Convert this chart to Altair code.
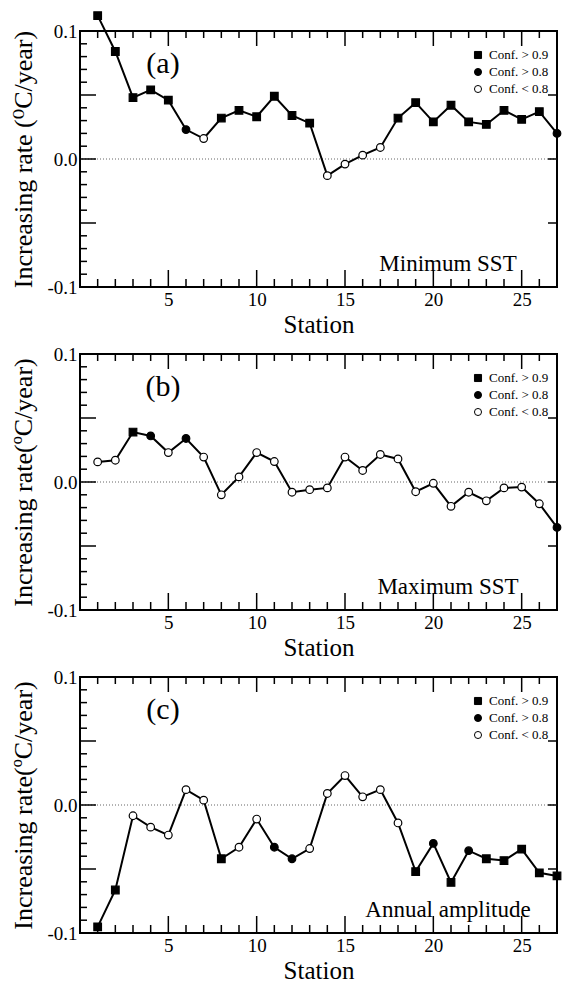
import altair as alt
import pandas as pd

H9 = "Conf. > 0.9"
M8 = "Conf. > 0.8"
L8 = "Conf. < 0.8"
conf_levels = [H9, M8, L8]

stations = list(range(1, 28))

min_sst = [0.112, 0.084, 0.048, 0.054, 0.046, 0.023, 0.016, 0.032, 0.038, 0.033,
           0.049, 0.034, 0.028, -0.013, -0.004, 0.003, 0.009, 0.032, 0.044, 0.029,
           0.042, 0.029, 0.027, 0.038, 0.031, 0.037, 0.020]
min_conf = [H9, H9, H9, H9, H9, M8, L8, H9, H9, H9, H9, H9, H9, L8, L8, L8, L8,
            H9, H9, H9, H9, H9, H9, H9, H9, H9, M8]

max_sst = [0.0157, 0.017, 0.039, 0.036, 0.023, 0.034, 0.0195, -0.010, 0.004, 0.023,
           0.016, -0.008, -0.006, -0.0046, 0.0195, 0.009, 0.0215, 0.018, -0.0076, -0.001,
           -0.019, -0.008, -0.0147, -0.0046, -0.004, -0.017, -0.0355]
max_conf = [L8, L8, H9, M8, L8, M8, L8, L8, L8, L8, L8, L8, L8, L8, L8, L8, L8,
            L8, L8, L8, L8, L8, L8, L8, L8, L8, M8]

amp = [-0.0952, -0.0664, -0.0084, -0.0173, -0.0235, 0.012, 0.0038, -0.042, -0.033, -0.011,
       -0.033, -0.042, -0.034, 0.009, 0.023, 0.0064, 0.012, -0.014, -0.052, -0.030,
       -0.0605, -0.0357, -0.042, -0.0434, -0.0345, -0.053, -0.0554]
amp_conf = [H9, H9, L8, L8, L8, L8, L8, H9, L8, L8, M8, M8, L8, L8, L8, L8, L8,
            L8, H9, M8, H9, M8, H9, H9, H9, H9, H9]

x_labels = [5, 10, 15, 20, 25]
x_minor = [1, 2, 3, 4, 6, 7, 8, 9, 11, 12, 13, 14, 16, 17, 18, 19, 21, 22, 23, 24, 26]
x_major = [5, 10, 15, 20, 25]
y_labels = [-0.1, 0.0, 0.1]
y_minor = [-0.09, -0.08, -0.07, -0.06, -0.04, -0.03, -0.02, -0.01,
           0.01, 0.02, 0.03, 0.04, 0.06, 0.07, 0.08, 0.09]
y_major = [-0.05, 0.0, 0.05]

W, H = 477, 256
FONT = "Liberation Serif, DejaVu Serif, serif"

shape_range = {H9: "square", M8: "circle", L8: "circle"}
fill_range = {H9: "black", M8: "black", L8: "white"}

xs = alt.Scale(domain=[0, 27], nice=False, zero=False)
ys = alt.Scale(domain=[-0.1, 0.1], nice=False, zero=False)


def panel(vals, conf, tag, note, ytitle):
    df = pd.DataFrame({"station": stations, "rate": vals, "conf": conf})
    xaxis = alt.Axis(values=x_labels, ticks=False, domain=False, grid=False,
                     title="Station", labelPadding=3, titlePadding=3,
                     titleFontSize=25)
    yaxis = alt.Axis(values=y_labels, ticks=False, domain=False,
                     grid=False, title=ytitle, labelPadding=3, titlePadding=10,
                     labelExpr="datum.value < 0 ? '-' + format(-datum.value, '.1f') : format(datum.value, '.1f')")
    X = alt.X("station:Q", scale=xs, axis=xaxis)
    Y = alt.Y("rate:Q", scale=ys, axis=yaxis)

    zero = alt.Chart(pd.DataFrame({"rate": [0.0]})).mark_rule(
        color="#666", strokeDash=[1, 2], strokeWidth=1
    ).encode(y=Y)

    line = alt.Chart(df).mark_line(color="black", strokeWidth=2).encode(x=X, y=Y)

    pts = alt.Chart(df).mark_point(stroke="black", strokeWidth=1.2, size=58,
                                   opacity=1, fillOpacity=1).encode(
        x=X, y=Y,
        shape=alt.Shape("conf:N", scale=alt.Scale(domain=conf_levels,
                                                  range=[shape_range[c] for c in conf_levels]),
                        legend=None),
        fill=alt.Fill("conf:N", scale=alt.Scale(domain=conf_levels,
                                                range=[fill_range[c] for c in conf_levels]),
                      legend=None),
    )

    # legend (manual)
    legend_layers = []
    for i, c in enumerate(conf_levels):
        d = pd.DataFrame({"lab": [c]})
        legend_layers.append(
            alt.Chart(d).mark_point(shape=shape_range[c], fill=fill_range[c],
                                    stroke="black", strokeWidth=1, size=50,
                                    opacity=1, fillOpacity=1).encode(
                x=alt.value(398), y=alt.value(24 + 17 * i)))
        legend_layers.append(
            alt.Chart(d).mark_text(font=FONT, fontSize=13, align="left",
                                   baseline="middle", color="black").encode(
                text="lab:N", x=alt.value(409), y=alt.value(24 + 17 * i)))

    def xt(vals_, y0, y1):
        return alt.Chart(pd.DataFrame({"station": vals_})).mark_rule(
            color="black", strokeWidth=1.5).encode(
            x=X, y=alt.value(y0), y2=alt.value(y1))

    def yt(vals_, x0, x1):
        return alt.Chart(pd.DataFrame({"rate": vals_})).mark_rule(
            color="black", strokeWidth=1.5).encode(
            y=Y, x=alt.value(x0), x2=alt.value(x1))

    ticks = [
        xt(x_minor, H, H - 8), xt(x_major, H, H - 17),
        xt(x_minor, 0, 7), xt(x_major, 0, 15),
        yt(y_minor, 0, 7), yt(y_major, 0, 16),
        yt(y_major, W, W - 9),
    ]

    tag_t = alt.Chart(pd.DataFrame({"t": [tag]})).mark_text(
        font=FONT, fontSize=30, color="black").encode(
        text="t:N", x=alt.value(83), y=alt.value(33))
    note_t = alt.Chart(pd.DataFrame({"t": [note]})).mark_text(
        font=FONT, fontSize=23, color="black").encode(
        text="t:N", x=alt.value(368), y=alt.value(233))

    return alt.layer(zero, *ticks, line, pts, *legend_layers, tag_t, note_t).properties(
        width=W, height=H)


pa = panel(min_sst, min_conf, "(a)", "Minimum SST", "Increasing rate (\u2070C/year)")
pb = panel(max_sst, max_conf, "(b)", "Maximum SST", "Increasing rate(\u00baC/year)")
pc = panel(amp, amp_conf, "(c)", "Annual amplitude", "Increasing rate(\u00baC/year)")

chart = alt.vconcat(pa, pb, pc, spacing=6).resolve_scale(
    shape="independent", fill="independent"
).properties(
    padding={"left": 1, "top": 0, "right": 0, "bottom": 0}
).configure_view(
    stroke="black", strokeWidth=2
).configure_axis(
    labelFont=FONT, labelFontSize=19, labelColor="black",
    titleFont=FONT, titleFontSize=26, titleFontWeight="normal", titleColor="black"
)

chart.save("out.html", embed_options={"renderer": "svg", "actions": False})
